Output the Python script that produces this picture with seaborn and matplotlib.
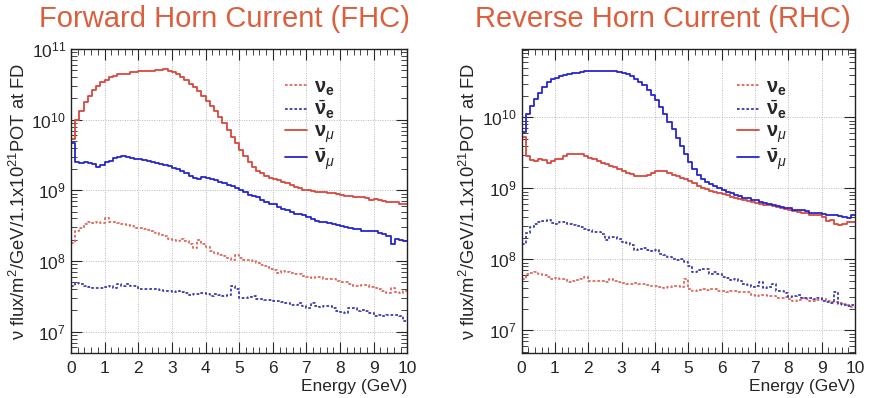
import numpy as np
import pandas as pd
import matplotlib
matplotlib.use("Agg")
import matplotlib.pyplot as plt
import seaborn as sns
from matplotlib.ticker import LogLocator, MultipleLocator, NullFormatter

# 80 bins of 0.125 GeV between 0 and 10 GeV
n_bins = 80
energy_range = (0, 10)
energy_centers = np.arange(n_bins) * 0.125 + 0.0625

# flux values, stored as log10(flux)
fhc_numu_log10 = [
    9.72, 10.00, 10.12, 10.25, 10.33, 10.42, 10.48, 10.53, 10.56, 10.60,
    10.62, 10.64, 10.65, 10.65, 10.67, 10.68, 10.69, 10.69, 10.69, 10.69,
    10.70, 10.70, 10.71, 10.69, 10.67, 10.64, 10.60, 10.56, 10.51, 10.46,
    10.40, 10.34, 10.27, 10.20, 10.12, 10.04, 9.95, 9.86, 9.76, 9.67,
    9.57, 9.48, 9.40, 9.33, 9.28, 9.24, 9.21, 9.18, 9.16, 9.14,
    9.12, 9.10, 9.07, 9.05, 9.03, 9.01, 9.00, 8.99, 8.98, 8.98,
    8.97, 8.96, 8.96, 8.95, 8.94, 8.92, 8.92, 8.91, 8.90, 8.90,
    8.89, 8.87, 8.88, 8.86, 8.85, 8.84, 8.83, 8.84, 8.81, 8.80,
]
fhc_numubar_log10 = [
    9.67, 9.40, 9.39, 9.40, 9.38, 9.37, 9.33, 9.36, 9.40, 9.42,
    9.46, 9.47, 9.48, 9.47, 9.46, 9.45, 9.44, 9.43, 9.41, 9.40,
    9.38, 9.37, 9.36, 9.34, 9.32, 9.30, 9.27, 9.24, 9.21, 9.17,
    9.16, 9.19, 9.18, 9.16, 9.14, 9.12, 9.10, 9.08, 9.06, 9.03,
    9.00, 8.97, 8.94, 8.92, 8.90, 8.87, 8.84, 8.81, 8.80, 8.77,
    8.74, 8.72, 8.70, 8.67, 8.66, 8.65, 8.63, 8.60, 8.56, 8.55,
    8.55, 8.54, 8.53, 8.51, 8.50, 8.48, 8.47, 8.46, 8.45, 8.43,
    8.42, 8.43, 8.42, 8.40, 8.38, 8.36, 8.24, 8.31, 8.30, 8.28,
]
fhc_nue_log10 = [
    8.26, 8.42, 8.47, 8.53, 8.55, 8.54, 8.55, 8.54, 8.61, 8.55,
    8.55, 8.54, 8.53, 8.51, 8.50, 8.47, 8.47, 8.45, 8.44, 8.42,
    8.40, 8.37, 8.35, 8.31, 8.30, 8.28, 8.31, 8.29, 8.24, 8.19,
    8.30, 8.24, 8.20, 8.14, 8.12, 8.09, 8.07, 8.04, 8.02, 8.09,
    8.04, 8.02, 8.01, 8.00, 7.97, 7.95, 7.93, 7.89, 7.88, 7.83,
    7.86, 7.85, 7.83, 7.82, 7.81, 7.79, 7.78, 7.76, 7.77, 7.78,
    7.75, 7.74, 7.74, 7.72, 7.71, 7.70, 7.67, 7.64, 7.64, 7.66,
    7.66, 7.63, 7.62, 7.60, 7.57, 7.55, 7.62, 7.56, 7.55, 7.58,
]
fhc_nuebar_log10 = [
    7.64, 7.69, 7.68, 7.65, 7.63, 7.62, 7.62, 7.62, 7.63, 7.64,
    7.62, 7.67, 7.64, 7.67, 7.65, 7.64, 7.61, 7.60, 7.61, 7.60,
    7.60, 7.59, 7.57, 7.57, 7.56, 7.57, 7.56, 7.55, 7.52, 7.54,
    7.54, 7.55, 7.53, 7.50, 7.53, 7.52, 7.51, 7.52, 7.64, 7.60,
    7.48, 7.48, 7.49, 7.50, 7.47, 7.46, 7.45, 7.45, 7.44, 7.43,
    7.42, 7.40, 7.38, 7.38, 7.40, 7.36, 7.34, 7.41, 7.37, 7.35,
    7.36, 7.36, 7.34, 7.29, 7.28, 7.27, 7.34, 7.33, 7.30, 7.31,
    7.30, 7.27, 7.22, 7.23, 7.22, 7.24, 7.24, 7.23, 7.22, 7.15,
]

rhc_numu_log10 = [
    9.73, 9.45, 9.40, 9.39, 9.42, 9.40, 9.36, 9.39, 9.41, 9.42,
    9.46, 9.48, 9.49, 9.49, 9.48, 9.45, 9.43, 9.41, 9.38, 9.36,
    9.34, 9.32, 9.30, 9.27, 9.25, 9.22, 9.20, 9.18, 9.17, 9.17,
    9.19, 9.21, 9.24, 9.25, 9.24, 9.22, 9.19, 9.17, 9.15, 9.13,
    9.10, 9.07, 9.04, 9.01, 8.99, 8.97, 8.95, 8.93, 8.92, 8.90,
    8.88, 8.87, 8.85, 8.84, 8.82, 8.81, 8.80, 8.78, 8.77, 8.76,
    8.75, 8.74, 8.72, 8.71, 8.70, 8.68, 8.67, 8.66, 8.65, 8.63,
    8.62, 8.63, 8.60, 8.54, 8.55, 8.50, 8.48, 8.50, 8.53, 8.53,
]
rhc_numubar_log10 = [
    9.80, 10.05, 10.16, 10.26, 10.34, 10.43, 10.50, 10.54, 10.56, 10.58,
    10.60, 10.61, 10.62, 10.63, 10.64, 10.65, 10.66, 10.66, 10.66, 10.65,
    10.66, 10.66, 10.65, 10.64, 10.63, 10.61, 10.58, 10.54, 10.50, 10.45,
    10.39, 10.32, 10.24, 10.15, 10.05, 9.94, 9.83, 9.71, 9.60, 9.49,
    9.37, 9.27, 9.19, 9.13, 9.09, 9.06, 9.03, 9.00, 8.98, 8.95,
    8.93, 8.91, 8.89, 8.87, 8.86, 8.84, 8.83, 8.81, 8.79, 8.78,
    8.77, 8.75, 8.74, 8.73, 8.72, 8.70, 8.69, 8.69, 8.68, 8.66,
    8.66, 8.65, 8.64, 8.63, 8.62, 8.62, 8.61, 8.60, 8.58, 8.62,
]
rhc_nue_log10 = [
    7.73, 7.80, 7.81, 7.82, 7.80, 7.78, 7.75, 7.73, 7.74, 7.73,
    7.72, 7.68, 7.70, 7.71, 7.73, 7.75, 7.69, 7.69, 7.70, 7.70,
    7.68, 7.73, 7.69, 7.68, 7.67, 7.66, 7.66, 7.67, 7.65, 7.66,
    7.64, 7.63, 7.62, 7.61, 7.60, 7.61, 7.63, 7.62, 7.61, 7.73,
    7.59, 7.56, 7.57, 7.58, 7.57, 7.58, 7.59, 7.56, 7.56, 7.54,
    7.55, 7.56, 7.54, 7.54, 7.54, 7.50, 7.49, 7.50, 7.50, 7.49,
    7.48, 7.45, 7.46, 7.47, 7.44, 7.42, 7.43, 7.45, 7.44, 7.42,
    7.42, 7.43, 7.44, 7.42, 7.40, 7.40, 7.38, 7.37, 7.36, 7.33,
]
rhc_nuebar_log10 = [
    8.22, 8.37, 8.46, 8.50, 8.53, 8.54, 8.55, 8.51, 8.50, 8.53,
    8.52, 8.50, 8.48, 8.47, 8.46, 8.43, 8.41, 8.39, 8.39, 8.36,
    8.27, 8.32, 8.31, 8.29, 8.25, 8.23, 8.20, 8.13, 8.14, 8.16,
    8.13, 8.12, 8.13, 8.08, 8.06, 8.03, 8.00, 7.99, 8.01, 7.96,
    7.91, 7.82, 7.85, 7.87, 7.86, 7.80, 7.82, 7.80, 7.75, 7.74,
    7.71, 7.72, 7.70, 7.66, 7.64, 7.61, 7.63, 7.68, 7.60, 7.61,
    7.66, 7.56, 7.55, 7.52, 7.47, 7.49, 7.50, 7.46, 7.46, 7.45,
    7.44, 7.45, 7.42, 7.40, 7.38, 7.54, 7.37, 7.36, 7.35, 7.36,
]

flavour_labels = [
    r"$\mathbf{\nu}_\mathbf{e}$",
    r"$\bar{\mathbf{\nu}}_\mathbf{e}$",
    r"$\mathbf{\nu}_\mu$",
    r"$\bar{\mathbf{\nu}}_\mu$",
]
panel_titles = ["Forward Horn Current (FHC)", "Reverse Horn Current (RHC)"]

panels = [
    [fhc_nue_log10, fhc_nuebar_log10, fhc_numu_log10, fhc_numubar_log10],
    [rhc_nue_log10, rhc_nuebar_log10, rhc_numu_log10, rhc_numubar_log10],
]

line_styles = [
    dict(color="#e0675c", linestyle=(0, (1.5, 1.1)), linewidth=1.3),
    dict(color="#3c3cb4", linestyle=(0, (1.5, 1.1)), linewidth=1.3),
    dict(color="#d9483f", linestyle="-", linewidth=1.3),
    dict(color="#2626d0", linestyle="-", linewidth=1.3),
]

sns.set_style("ticks")
plt.rcParams["font.family"] = ["Liberation Sans", "DejaVu Sans"]
plt.rcParams["mathtext.fontset"] = "custom"
plt.rcParams["mathtext.rm"] = "Liberation Sans"
plt.rcParams["mathtext.it"] = "Liberation Sans:italic"
plt.rcParams["mathtext.bf"] = "Liberation Sans:bold"

text_color = "#262626"
title_color = "#db5f3c"

fig = plt.figure(figsize=(8.76, 3.98), dpi=100)
ax_boxes = [
    [0.081, 0.113, 0.384, 0.764],
    [0.5955, 0.113, 0.3805, 0.764],
]
y_limits = [(5.0e6, 1.0e11), (4.8e6, 9.2e10)]
legend_x = [0.605, 0.615]
title_x = [0.256, 0.757]

for p, (series, box) in enumerate(zip(panels, ax_boxes)):
    ax = fig.add_axes(box)
    for log_vals, style, label in zip(series, line_styles, flavour_labels):
        df = pd.DataFrame({"energy": energy_centers, "flux": 10 ** np.array(log_vals)})
        sns.histplot(data=df, x="energy", weights="flux", bins=n_bins, binrange=energy_range,
                     element="step", fill=False, ax=ax, label=label, **style)
    ax.set_yscale("log")
    ax.set_xlim(*energy_range)
    ax.set_ylim(*y_limits[p])

    ax.xaxis.set_major_locator(MultipleLocator(1))
    ax.xaxis.set_minor_locator(MultipleLocator(0.2))
    ax.yaxis.set_major_locator(LogLocator(base=10, numticks=12))
    ax.yaxis.set_minor_locator(LogLocator(base=10, subs=np.arange(2, 10), numticks=12))
    ax.yaxis.set_minor_formatter(NullFormatter())
    ax.tick_params(which="both", direction="in", top=True, right=True,
                   colors=text_color, labelsize=12.5)
    ax.tick_params(which="major", length=8, width=0.8)
    ax.tick_params(which="minor", length=4, width=0.6)
    ax.tick_params(axis="x", pad=6)
    ax.grid(True, which="major", linestyle=(0, (1, 1.5)), color="#b8b8b8", linewidth=0.7)
    for spine in ax.spines.values():
        spine.set_color("#222222")
        spine.set_linewidth(1.0)

    ax.set_ylabel("ν flux/m$^2$/GeV/1.1x10$^{21}$POT at FD", fontsize=13.2, color=text_color,
                  labelpad=2)
    ax.set_xlabel("Energy (GeV)", fontsize=12.5, color=text_color, loc="right", labelpad=2)

    ax.legend(loc="upper left", bbox_to_anchor=(legend_x[p], 0.94), frameon=False,
              fontsize=14.5, handlelength=1.1, handletextpad=0.35, labelspacing=0.06,
              borderpad=0)

    fig.text(title_x[p], 0.953, panel_titles[p], ha="center", va="center",
             fontsize=21, color=title_color)

fig.savefig("out.png", dpi=100)
